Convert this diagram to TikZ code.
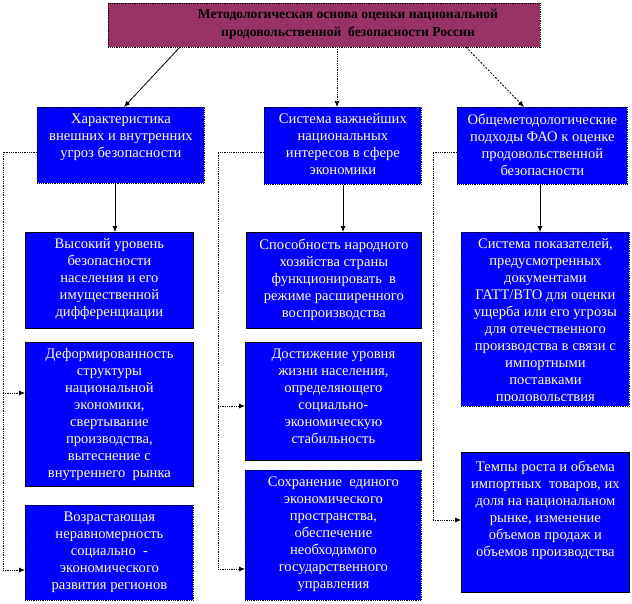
\documentclass[tikz,border=0pt]{standalone}
\usepackage{fontspec}
\setmainfont{Liberation Serif}
\usetikzlibrary{arrows.meta,calc}
\definecolor{boxblue}{HTML}{0000FF}
\definecolor{txtcream}{HTML}{FFFFCC}
\definecolor{maroon}{HTML}{993366}
\tikzset{
  bbox/.style={draw=black, line width=0.8pt, fill=boxblue, anchor=north west, inner sep=0pt},
  dotbox/.style={bbox, densely dotted},
  btxt/.style={text=txtcream, align=center, anchor=north, inner sep=0pt,
    font=\fontsize{14.6}{17}\selectfont},
  ttxt/.style={text=black, align=center, anchor=north, inner sep=0pt,
    font=\bfseries\fontsize{13.6}{18}\selectfont},
  tip/.style={-{Latex[length=6pt,width=5pt]}},
  sline/.style={tip, line width=0.8pt},
  dline/.style={line width=0.8pt, densely dotted},
}
\begin{document}
\begin{tikzpicture}[x=1pt,y=-1pt]
\useasboundingbox (0,0) rectangle (632,603);
% top box
\node[dotbox, fill=maroon, minimum width=432pt, minimum height=44pt] (T) at (108,3) {};
\node[ttxt] (Tt) at (348,8.5) {Методологическая основа оценки национальной\\продовольственной\ \ безопасности России};
% level 2
\node[dotbox, minimum width=167pt, minimum height=76pt] (A) at (37,107) {};
\node[btxt] (At) at ([yshift=-6.5pt]A.north) {Характеристика\\внешних и внутренних\\угроз безопасности};
\node[dotbox, minimum width=157pt, minimum height=77pt] (B) at (264,107) {};
\node[btxt] (Bt) at ([yshift=-6.5pt]B.north) {Система важнейших\\национальных\\интересов в сфере\\экономики};
\node[dotbox, minimum width=170pt, minimum height=77pt] (C) at (457,107) {};
\node[btxt] (Ct) at ([yshift=-6.5pt]C.north) {Общеметодологические\\подходы ФАО к оценке\\продовольственной\\безопасности};
% level 3 left
\node[bbox, minimum width=168pt, minimum height=96pt] (A1) at (25,232) {};
\node[btxt] (A1t) at ([yshift=-6.5pt]A1.north) {Высокий уровень\\безопасности\\населения и его\\имущественной\\дифференциации};
\node[bbox, minimum width=168pt, minimum height=144pt] (A2) at (25,342) {};
\node[btxt] (A2t) at ([yshift=-6.5pt]A2.north) {Деформированность\\структуры\\национальной\\экономики,\\свертывание\\производства,\\вытеснение с\\внутреннего\ \ рынка};
\node[dotbox, minimum width=168pt, minimum height=95pt] (A3) at (25,505) {};
\node[btxt] (A3t) at ([yshift=-6.5pt]A3.north) {Возрастающая\\неравномерность\\социально\ \ -\\экономического\\развития регионов};
% level 3 middle
\node[bbox, minimum width=175pt, minimum height=96pt] (B1) at (246,232) {};
\node[btxt] (B1t) at ([yshift=-6.5pt]B1.north) {Способность народного\\хозяйства страны\\функционировать\ \ в\\режиме расширенного\\воспроизводства};
\node[bbox, minimum width=176pt, minimum height=118pt] (B2) at (245,342) {};
\node[btxt] (B2t) at ([yshift=-6.5pt]B2.north) {Достижение уровня\\жизни населения,\\определяющего\\социально-\\экономическую\\стабильность};
\node[dotbox, minimum width=176pt, minimum height=130pt] (B3) at (245,470) {};
\node[btxt] (B3t) at ([yshift=-6.5pt]B3.north) {Сохранение\ \ единого\\экономического\\пространства,\\обеспечение\\необходимого\\государственного\\управления};
% level 3 right
\node[dotbox, minimum width=168pt, minimum height=174pt] (C1) at (461,232) {};
\begin{scope}
\clip ([xshift=1pt,yshift=-1pt]C1.north west) rectangle ([xshift=-1pt,yshift=6pt]C1.south east);
\node[btxt] (C1t) at ([yshift=-6.5pt]C1.north) {Система показателей,\\предусмотренных\\документами\\ГАТТ/ВТО для оценки\\ущерба или его угрозы\\для отечественного\\производства в связи с\\импортными\\поставками\\продовольствия};
\end{scope}
\node[bbox, minimum width=168pt, minimum height=140pt] (C2) at (461,452) {};
\node[btxt] (C2t) at ([yshift=-8.5pt]C2.north) {Темпы роста и объема\\импортных\ \ товаров, их\\доля на национальном\\рынке, изменение\\объемов продаж и\\объемов производства};
% connectors from top
\coordinate (ta) at (180,47);
\coordinate (tb) at (337,47);
\coordinate (tc) at (466,47);
\draw[sline] (ta) -- (124,107);
\draw[tip, dline] (tb) -- (tb |- B.north);
\draw[tip, line width=0.8pt, dash pattern=on 2pt off 1.5pt] (tc) -- (524,107);
% vertical solid arrows
\coordinate (xa) at (115,0);
\coordinate (xb) at (343,0);
\coordinate (xc) at (540,0);
\draw[sline] (xa |- A.south) -- (xa |- A1.north);
\draw[sline] (xb |- B.south) -- (xb |- B1.north);
\draw[sline] (xc |- C.south) -- (xc |- C1.north);
% left bus
\coordinate (la) at (3,152);
\coordinate (la2) at (3,393);
\coordinate (la3) at (3,570);
\draw[dline] (A.west |- la) -- (la) -- (la3);
\draw[dline, tip] (la2) -- (A2.west |- la2);
\draw[dline, tip] (la3) -- (A3.west |- la3);
% middle bus
\coordinate (lb) at (218,152);
\coordinate (lb2) at (218,406);
\coordinate (lb3) at (218,569);
\draw[dline] (B.west |- lb) -- (lb) -- (lb3);
\draw[dline, tip] (lb2) -- (B2.west |- lb2);
\draw[dline, tip] (lb3) -- (B3.west |- lb3);
% right bus
\coordinate (lc) at (433,152);
\coordinate (lc2) at (433,520);
\draw[dline] (C.west |- lc) -- (lc) -- (lc2);
\draw[dline, tip] (lc2) -- (C2.west |- lc2);
\end{tikzpicture}
\end{document}
